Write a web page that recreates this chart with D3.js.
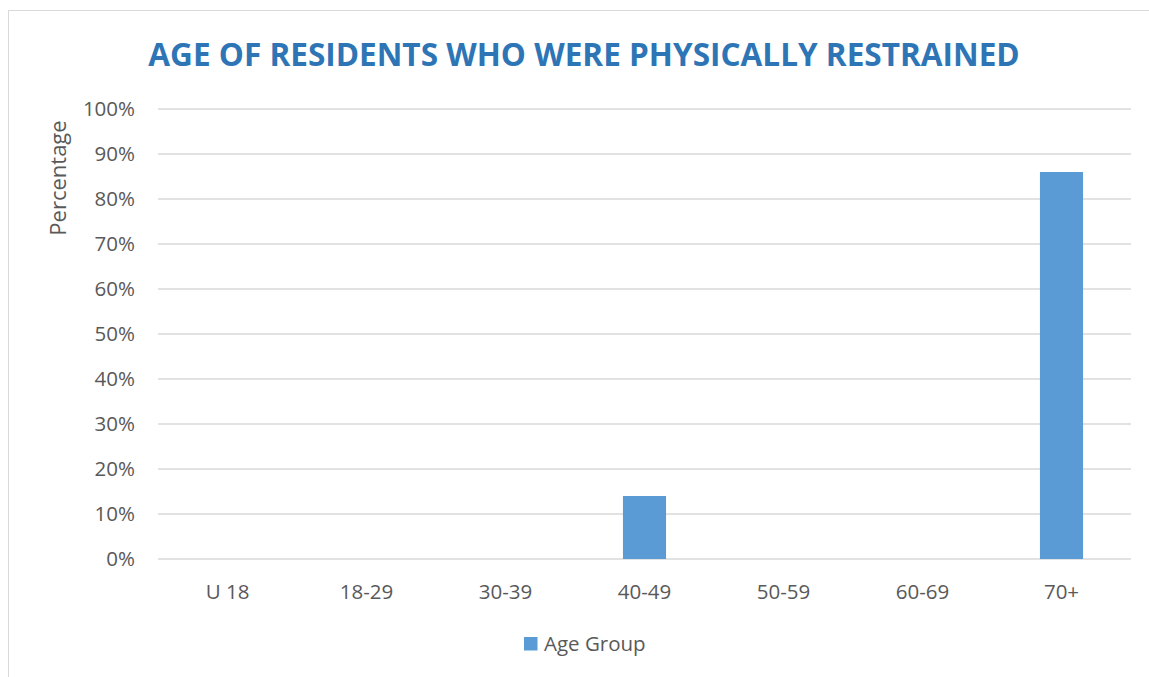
<!DOCTYPE html>
<html>
<head>
<meta charset="utf-8">
<script src="https://cdn.jsdelivr.net/npm/d3@7"></script>
<style>
  body { margin: 0; background: #fff; }
  text { font-family: "Open Sans", "Liberation Sans", sans-serif; fill: #595959; }
</style>
</head>
<body>
<div id="chart"></div>
<script>
// Chart data
const ageGroups = ["U 18", "18-29", "30-39", "40-49", "50-59", "60-69", "70+"];
const percentages = [0, 0, 0, 14, 0, 0, 86];
const yTicks = [0, 10, 20, 30, 40, 50, 60, 70, 80, 90, 100];
const seriesName = "Age Group";
const chartTitle = "AGE OF RESIDENTS WHO WERE PHYSICALLY RESTRAINED";

const W = 1149, H = 677;
const margin = { top: 109, right: 18, bottom: 118, left: 158 };
const width = W - margin.left - margin.right;
const height = H - margin.top - margin.bottom;

const svg = d3.select("#chart").append("svg")
  .attr("width", W)
  .attr("height", H);

// Chart area border (only left/top edges are visible in the frame)
svg.append("rect")
  .attr("x", 8.5).attr("y", 10.5)
  .attr("width", W + 10).attr("height", H + 10)
  .attr("fill", "none")
  .attr("stroke", "#d9d9d9");

const g = svg.append("g")
  .attr("transform", `translate(${margin.left},${margin.top})`);

const x = d3.scaleBand()
  .domain(ageGroups)
  .range([0, width])
  .paddingInner(0.69)
  .paddingOuter(0.345);

const xCenter = d3.scaleBand().domain(ageGroups).range([0, width]);

const y = d3.scaleLinear()
  .domain([0, 100])
  .range([height, 0]);

// Gridlines
g.append("g")
  .selectAll("line")
  .data(yTicks)
  .join("line")
  .attr("x1", 0).attr("x2", width)
  .attr("y1", d => y(d)).attr("y2", d => y(d))
  .attr("stroke", "#d9d9d9")
  .attr("stroke-width", 1.3);

// Y tick labels
g.append("g")
  .selectAll("text")
  .data(yTicks)
  .join("text")
  .attr("x", -23)
  .attr("y", d => y(d))
  .attr("dy", "0.36em")
  .attr("text-anchor", "end")
  .style("font-size", "20.5px")
  .text(d => d + "%");

// Bars
g.append("g")
  .selectAll("rect")
  .data(ageGroups.map((a, i) => ({ a, v: percentages[i] })))
  .join("rect")
  .attr("x", d => x(d.a))
  .attr("y", d => y(d.v))
  .attr("width", x.bandwidth())
  .attr("height", d => height - y(d.v))
  .attr("fill", "#5b9bd5");

// X labels
g.append("g")
  .selectAll("text")
  .data(ageGroups)
  .join("text")
  .attr("x", d => xCenter(d) + xCenter.bandwidth() / 2)
  .attr("y", height + 40)
  .attr("text-anchor", "middle")
  .style("font-size", "20.5px")
  .text(d => d);

// Y axis label
svg.append("text")
  .attr("transform", "translate(66,178) rotate(-90)")
  .attr("text-anchor", "middle")
  .style("font-size", "22px")
  .text("Percentage");

// Title, fitted to the reference width
const title = svg.append("text")
  .attr("x", 584)
  .attr("y", 66)
  .attr("text-anchor", "middle")
  .style("font-size", "32px")
  .style("font-weight", "bold")
  .style("fill", "#2e75b6")
  .text(chartTitle);
const tw = title.node().getComputedTextLength();
title.style("font-size", (32 * 872 / tw) + "px");

// Legend
const legend = svg.append("g").attr("transform", "translate(524,637)");
legend.append("rect")
  .attr("width", 13.5).attr("height", 13.5)
  .attr("fill", "#5b9bd5");
legend.append("text")
  .attr("x", 20)
  .attr("y", 13.5)
  .style("font-size", "20.5px")
  .text(seriesName);
</script>
</body>
</html>
